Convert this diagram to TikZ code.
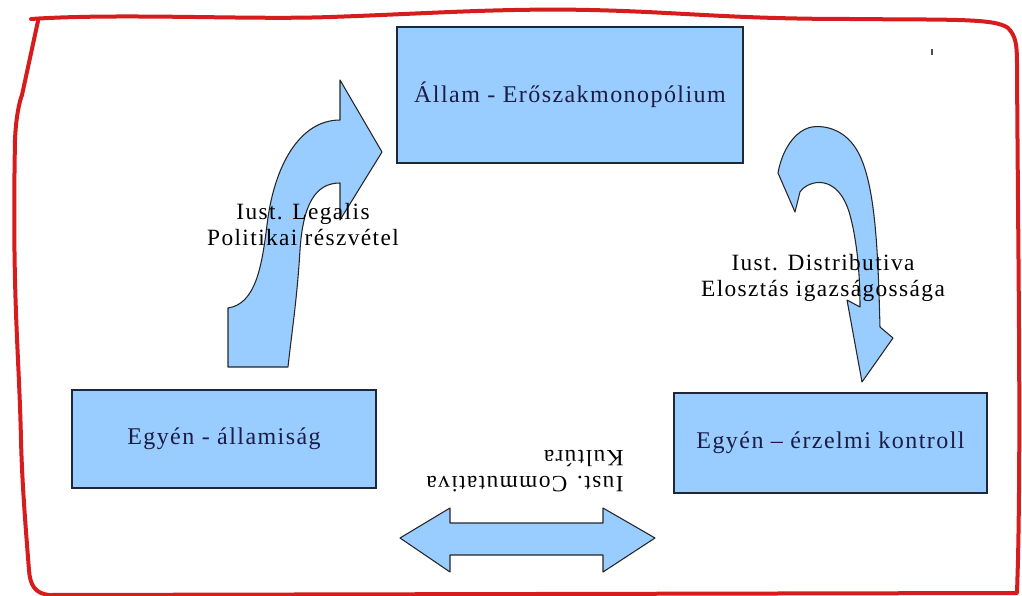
\documentclass[tikz,border=0pt]{standalone}
\usepackage{fontspec}
\setmainfont{Liberation Serif}[LetterSpace=6]
\definecolor{boxfill}{HTML}{99CCFF}
\definecolor{boxline}{HTML}{1E2838}
\definecolor{boxtext}{HTML}{1C1C44}
\definecolor{redline}{HTML}{D61C1C}
\begin{document}
\begin{tikzpicture}[x=0.75pt,y=-0.75pt,
  box/.style={draw=boxline, fill=boxfill, line width=1.1pt, inner sep=0pt, outer sep=0pt, text=boxtext, font=\fontsize{18}{21}\selectfont},
  lbl/.style={align=center, inner sep=0pt, font=\fontsize{17.5}{19.5}\selectfont, text=black},
  blockarrow/.style={draw=black!85, fill=boxfill, line width=0.8pt, line join=round},
  border/.style={draw=redline, line width=3pt, line cap=round, line join=round}]
\useasboundingbox (0,0) rectangle (1022,596);
% hand-drawn red frame
\draw[border] (31,19) .. controls (120,13) and (250,20) .. (330,17)
  .. controls (420,14) and (500,8) .. (590,10)
  .. controls (680,12) and (730,19) .. (850,19)
  .. controls (950,20) and (995,18) .. (1008,28)
  .. controls (1016,36) and (1017,45) .. (1017,65)
  .. controls (1018,250) and (1021,420) .. (1018,560)
  -- (1017,593) -- (50,595)
  .. controls (35,594) and (30,585) .. (29,570)
  .. controls (25,520) and (22,480) .. (21,440)
  .. controls (19,350) and (12,300) .. (15,140)
  .. controls (16,115) and (20,100) .. (22,95) -- (38,21);
\draw[gray!60!black, line width=1pt] (932,49) -- (932,55);
% boxes
\node[box, minimum width=259.5pt, minimum height=102pt] (state) at (570,95) {Állam - Erőszakmonopólium};
\node[box, minimum width=228pt, minimum height=73.5pt] (indstate) at (224,439) {Egyén - államiság};
\node[box, minimum width=234.75pt, minimum height=75pt] (indemo) at (830.5,443) {Egyén – érzelmi kontroll};
% left curved block arrow (up to the state)
\draw[blockarrow] (228,367) -- (228,308)
  .. controls (256,304) and (262,265) .. (267,225)
  .. controls (274,165) and (300,120) .. (340,120)
  -- (340,80) -- (382,152) -- (340,220) -- (340,183)
  .. controls (315,183) and (303,205) .. (300,250)
  .. controls (297,300) and (292,330) .. (288,367) -- cycle;
% right curved block arrow (down from the state)
\draw[blockarrow] (778,173) -- (795,212) -- (800,192)
  .. controls (808,180) and (838,172) .. (850,215)
  .. controls (858,245) and (860,280) .. (860,307)
  -- (847,300) -- (862,382) -- (893,338) -- (880,327)
  .. controls (878,255) and (876,185) .. (858,152)
  .. controls (846,130) and (826,125) .. (812,127)
  .. controls (795,130) and (782,150) .. (778,173) -- cycle;
% double block arrow
\draw[blockarrow] (400,538) -- (450,508) -- (450,523) -- (603,523) -- (603,508)
  -- (655,538) -- (603,572) -- (603,555) -- (450,555) -- (450,572) -- cycle;
% labels
\node[lbl] (legalis) at (303,225) {Iust. Legalis\\Politikai részvétel};
\node[lbl] (distrib) at (823,278) {Iust. Distributiva\\Elosztás igazságossága};
\node[lbl, align=left, rotate=180] (comm) at (525,471) {Iust. Commutativa\\Kultúra};
\end{tikzpicture}
\end{document}
